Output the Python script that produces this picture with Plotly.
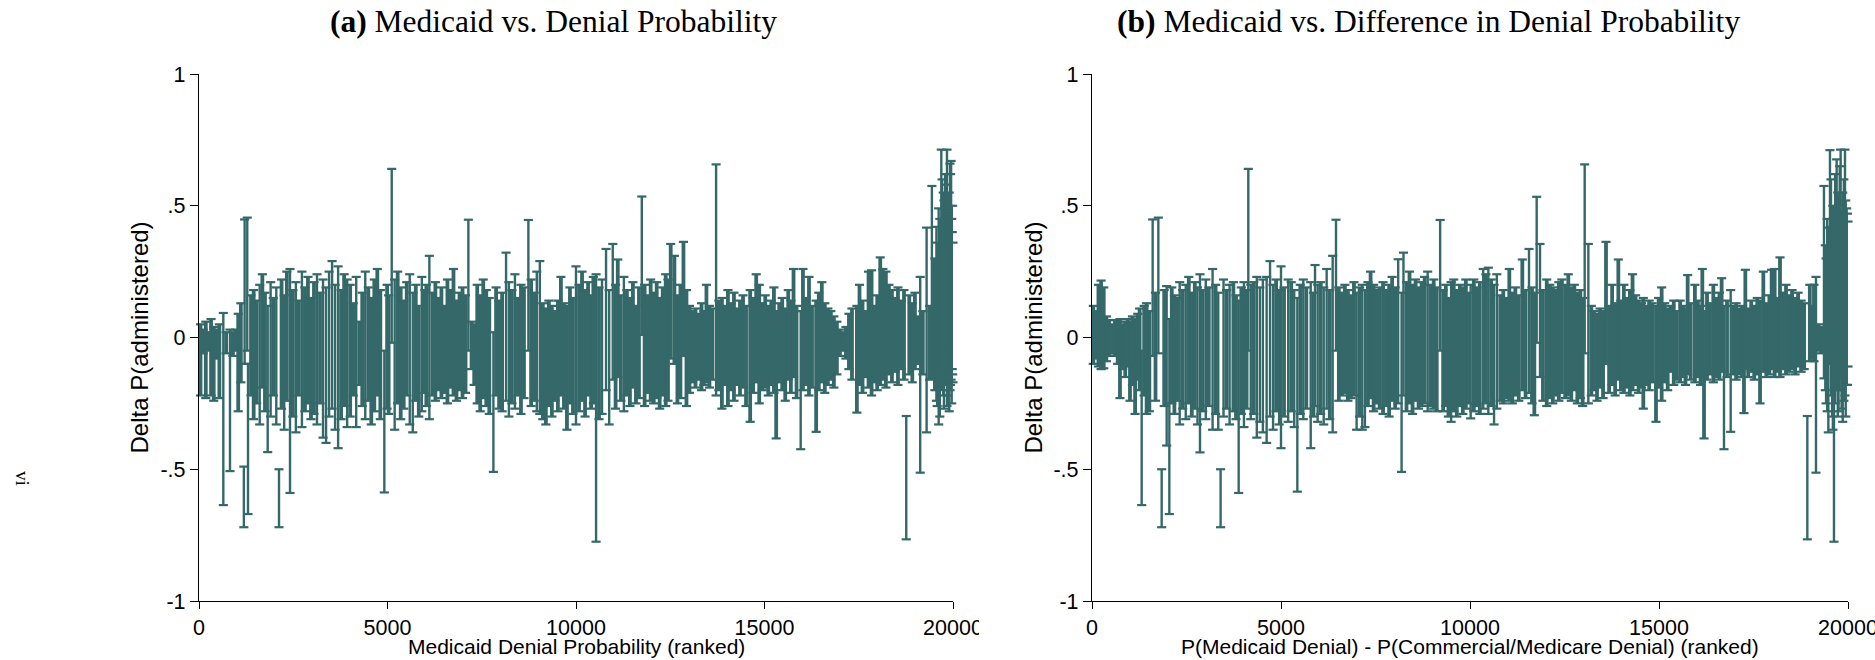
import plotly.graph_objects as go

# ---------------- Panel (a): Medicaid denial probability (ranked) ----------------
rank_a = [40, 110, 180, 250, 320, 390, 460, 540, 645, 720, 822, 900, 970,
          1040, 1110, 1190, 1210, 1280, 1300, 1380, 1450, 1530, 1610, 1680, 1750, 1822, 1900, 1970,
          2050, 2122, 2190, 2260, 2330, 2414, 2490, 2570, 2650, 2730, 2810, 2890, 2970,
          3050, 3130, 3210, 3290, 3370, 3450, 3530, 3610, 3690, 3770, 3850, 3930,
          4010, 4090, 4170, 4250, 4330, 4410, 4490, 4570, 4650, 4730, 4810, 4916, 4990,
          5030, 5112, 5190, 5270, 5350, 5430, 5510, 5590, 5670, 5750, 5830, 5910, 5990,
          6030, 6110, 6190, 6270, 6350, 6430, 6510, 6590, 6670, 6750, 6830, 6910, 6990, 7070, 7145,
          7230, 7300, 7380, 7460, 7540, 7620, 7700, 7809, 7880, 7960,
          8040, 8145, 8220, 8300, 8380, 8460, 8540, 8620, 8737, 8810, 8890, 8960,
          9040, 9120, 9200, 9280, 9360, 9440, 9520, 9600, 9680, 9760, 9840, 9920,
          10000, 10080, 10160, 10240, 10320, 10400, 10460, 10532, 10610, 10690, 10797, 10880, 10975,
          11050, 11108, 11190, 11270, 11350, 11430, 11510, 11590, 11670, 11745, 11820, 11900, 11980,
          12060, 12140, 12220, 12300, 12380, 12440, 12512, 12610, 12690, 12770, 12850, 12930,
          13010, 13090, 13170, 13250, 13330, 13390, 13460, 13540, 13620, 13716, 13790, 13870, 13950,
          14030, 14110, 14190, 14270, 14350, 14430, 14510, 14620, 14700, 14780, 14860, 14940,
          15020, 15100, 15180, 15250, 15310, 15390, 15470, 15550, 15630, 15700, 15770, 15850, 15960,
          16020, 16100, 16180, 16260, 16370, 16440, 16520, 16600, 16680, 16760, 16840, 16920,
          17000, 17080, 17160, 17240, 17320, 17450, 17520, 17600, 17680, 17760, 17840, 17920, 17990,
          18070, 18140, 18220, 18300, 18380, 18460, 18540, 18620, 18700, 18760, 18840, 18920, 18990,
          19060, 19130, 19200, 19300, 19380, 19440, 19520, 19580, 19620, 19690, 19740, 19790, 19840,
          19880, 19920, 19950, 19980, 20000,
          19560, 19650, 19710, 19760, 19810, 19860, 19900, 19935, 19965, 19990]

lo_a = [-0.22, -0.06, -0.23, -0.05, -0.22, -0.24, -0.08, -0.23, -0.636, -0.06, -0.507, -0.07, -0.05,
        -0.28, -0.17, -0.72, -0.10, -0.05, -0.67, -0.22, -0.31, -0.25, -0.33, -0.19, -0.28, -0.435, -0.30, -0.22,
        -0.33, -0.72, -0.27, -0.35, -0.24, -0.59, -0.30, -0.36, -0.22, -0.34, -0.28, -0.25, -0.31,
        -0.29, -0.33, -0.25, -0.38, -0.40, -0.30, -0.27, -0.35, -0.42, -0.31, -0.26, -0.34,
        -0.30, -0.22, -0.34, -0.18, -0.26, -0.31, -0.24, -0.33, -0.28, -0.22, -0.31, -0.588, -0.27,
        -0.29, -0.02, -0.35, -0.25, -0.31, -0.27, -0.22, -0.33, -0.36, -0.24, -0.30, -0.28, -0.21,
        -0.26, -0.31, -0.22, -0.24, -0.20, -0.23, -0.21, -0.25, -0.19, -0.22, -0.24, -0.20, -0.23, -0.21, -0.05,
        -0.12, -0.18, -0.25, -0.28, -0.23, -0.26, -0.29, -0.51, -0.22, -0.27,
        -0.28, -0.24, -0.30, -0.25, -0.27, -0.22, -0.29, -0.23, -0.05, -0.26, -0.24, -0.28,
        -0.29, -0.31, -0.33, -0.26, -0.30, -0.24, -0.28, -0.22, -0.27, -0.35, -0.25, -0.29,
        -0.33, -0.28, -0.24, -0.30, -0.22, -0.27, -0.25, -0.775, -0.31, -0.29, -0.20, -0.33, -0.16,
        -0.27, -0.15, -0.24, -0.28, -0.22, -0.26, -0.19, -0.25, -0.23, 0.01, -0.26, -0.21, -0.24,
        -0.25, -0.23, -0.27, -0.22, -0.26, -0.24, -0.08, -0.10, -0.25, -0.23, -0.07, -0.26,
        -0.21, -0.17, -0.19, -0.16, -0.20, -0.18, -0.17, -0.19, -0.16, -0.22, -0.20, -0.27, -0.18,
        -0.26, -0.20, -0.24, -0.18, -0.22, -0.19, -0.26, -0.32, -0.21, -0.17, -0.25, -0.20,
        -0.19, -0.22, -0.18, -0.21, -0.383, -0.17, -0.20, -0.24, -0.16, -0.21, -0.15, -0.23, -0.424,
        -0.20, -0.18, -0.22, -0.19, -0.358, -0.20, -0.17, -0.21, -0.18, -0.16, -0.19, -0.14,
        -0.07, -0.05, -0.08, -0.12, -0.16, -0.285, -0.18, -0.21, -0.15, -0.19, -0.22, -0.17, -0.20,
        -0.18, -0.16, -0.19, -0.14, -0.17, -0.13, -0.18, -0.12, -0.16, -0.766, -0.14, -0.17, -0.12,
        -0.10, -0.513, -0.14, -0.36, -0.16, -0.155, -0.20, -0.26, -0.33, -0.05, -0.22, -0.18, -0.26,
        -0.15, -0.20, -0.16, -0.12, -0.17,
        -0.24, -0.30, -0.20, -0.27, -0.14, -0.22, -0.28, -0.18, -0.25, -0.14]

hi_a = [0.05, 0.03, 0.06, 0.02, 0.07, 0.04, 0.03, 0.05, 0.093, 0.02, 0.03, 0.02, 0.03,
        0.09, 0.13, -0.49, 0.448, 0.455, -0.10, 0.16, 0.18, 0.14, 0.20, 0.24, 0.17, 0.12, 0.21, 0.15,
        0.19, -0.50, 0.22, 0.16, 0.25, 0.26, 0.18, 0.21, 0.14, 0.25, 0.19, 0.23, 0.15,
        0.21, 0.24, 0.17, 0.22, 0.19, 0.25, 0.29, 0.20, 0.27, 0.18, 0.24, 0.22,
        0.20, 0.13, 0.23, 0.06, 0.17, 0.25, 0.19, 0.15, 0.22, 0.26, 0.18, -0.05, 0.20,
        0.16, 0.64, 0.22, 0.25, 0.19, 0.14, 0.21, 0.24, 0.17, 0.20, 0.12, 0.23, 0.18,
        0.20, 0.31, 0.17, 0.21, 0.15, 0.19, 0.12, 0.22, 0.18, 0.26, 0.14, 0.17, 0.19, 0.16, 0.447,
        0.06, 0.05, 0.20, 0.16, 0.22, 0.18, 0.15, 0.02, 0.19, 0.14,
        0.17, 0.322, 0.21, 0.18, 0.24, 0.15, 0.20, 0.19, 0.446, 0.22, 0.17, 0.25,
        0.29, 0.13, 0.11, 0.14, 0.12, 0.10, 0.14, 0.23, 0.13, 0.12, 0.19, 0.15,
        0.27, 0.20, 0.25, 0.18, 0.21, 0.16, 0.23, 0.24, 0.19, 0.22, 0.336, 0.18, 0.355,
        0.20, 0.296, 0.16, 0.23, 0.18, 0.15, 0.21, 0.12, 0.19, 0.535, 0.20, 0.16, 0.22,
        0.17, 0.21, 0.15, 0.19, 0.24, 0.22, 0.355, 0.31, 0.16, 0.20, 0.363, 0.18,
        0.12, 0.10, 0.11, 0.09, 0.13, 0.10, 0.20, 0.12, 0.11, 0.657, 0.14, 0.15, 0.12,
        0.18, 0.13, 0.17, 0.11, 0.14, 0.16, 0.12, 0.18, 0.15, 0.24, 0.20, 0.13,
        0.16, 0.12, 0.14, 0.19, 0.10, 0.13, 0.15, 0.11, 0.18, 0.14, 0.26, 0.12, 0.10,
        0.26, 0.15, 0.23, 0.12, 0.14, 0.17, 0.21, 0.13, 0.11, 0.10, 0.08, 0.06,
        0.03, 0.02, 0.04, 0.09, 0.11, 0.12, 0.20, 0.14, 0.10, 0.25, 0.255, 0.12, 0.16,
        0.304, 0.26, 0.25, 0.20, 0.18, 0.15, 0.19, 0.14, 0.18, -0.298, 0.16, 0.13, 0.17,
        0.08, 0.23, 0.10, 0.417, 0.12, 0.575, 0.30, 0.36, 0.49, 0.713, 0.55, 0.62, 0.713,
        0.48, 0.66, 0.67, 0.40, 0.36,
        0.42, 0.45, 0.60, 0.52, 0.58, 0.50, 0.55, 0.62, 0.45, 0.50]

# ---------------- Panel (b): difference in denial probability (ranked) ----------------
rank_b = [35, 100, 170, 240, 310, 380, 450, 530, 610, 680, 740, 810, 880, 950,
          1005, 1070, 1140, 1210, 1260, 1314, 1380, 1445, 1517, 1605, 1680, 1755, 1843, 1910, 1975,
          2046, 2110, 2180, 2250, 2320, 2400, 2480, 2560, 2640, 2720, 2790, 2857, 2930,
          3010, 3090, 3190, 3270, 3340, 3402, 3480, 3560, 3640, 3740, 3810, 3880, 3950,
          4020, 4090, 4135, 4200, 4280, 4360, 4440, 4520, 4620, 4710, 4790, 4870, 4950,
          5000, 5080, 5190, 5270, 5350, 5432, 5510, 5590, 5670, 5786, 5860, 5900, 5970,
          6050, 6130, 6208, 6290, 6367, 6455, 6530, 6610, 6690, 6770, 6850, 6930, 7000,
          7080, 7150, 7220, 7300, 7370, 7450, 7530, 7610, 7700, 7780, 7860, 7940,
          8020, 8100, 8190, 8240, 8320, 8400, 8480, 8560, 8640, 8720, 8800, 8880, 8960,
          9040, 9120, 9210, 9290, 9360, 9430, 9500, 9570, 9650, 9730, 9810, 9890, 9960,
          10018, 10100, 10180, 10260, 10350, 10420, 10485, 10560, 10636, 10710, 10800, 10880, 10960,
          11040, 11120, 11200, 11290, 11384, 11470, 11561, 11640, 11702, 11764, 11852, 11930,
          12030, 12110, 12190, 12270, 12350, 12430, 12520, 12600, 12680, 12760, 12840, 12920, 12980,
          13034, 13131, 13210, 13280, 13360, 13440, 13520, 13598, 13680, 13760, 13840, 13924, 13990,
          14070, 14150, 14230, 14300, 14380, 14460, 14540, 14585, 14660, 14740, 14820, 14920, 14990,
          15070, 15150, 15230, 15310, 15390, 15470, 15560, 15640, 15700, 15758, 15840, 15950,
          16030, 16100, 16146, 16191, 16270, 16350, 16437, 16520, 16600, 16657, 16719, 16800, 16896, 16960,
          17040, 17120, 17200, 17248, 17284, 17360, 17440, 17520, 17600, 17673, 17760, 17840, 17920, 17980,
          18060, 18130, 18201, 18280, 18360, 18440, 18520, 18600, 18680, 18760, 18840, 18924, 18990,
          19060, 19100, 19153, 19220, 19290, 19364, 19420, 19480, 19523, 19580, 19629, 19700, 19750,
          19805, 19860, 19920, 19965, 20000,
          19400, 19450, 19550, 19600, 19660, 19730, 19780, 19830, 19890, 19940, 19985]

lo_b = [-0.10, -0.08, -0.11, -0.12, -0.117, -0.09, -0.07, -0.06, -0.07, -0.10, -0.23, -0.12, -0.15, -0.11,
        -0.24, -0.18, -0.29, -0.16, -0.20, -0.636, -0.22, -0.29, -0.28, -0.07, -0.24, -0.06, -0.72, -0.26, -0.41,
        -0.67, -0.25, -0.29, -0.24, -0.33, -0.27, -0.31, -0.25, -0.30, -0.27, -0.33, -0.436, -0.28,
        -0.31, -0.26, -0.35, -0.29, -0.35, -0.72, -0.30, -0.27, -0.33, -0.28, -0.31, -0.59, -0.29,
        -0.34, -0.27, -0.05, -0.31, -0.29, -0.38, -0.32, -0.36, -0.40, -0.30, -0.35, -0.28, -0.33,
        -0.42, -0.30, -0.32, -0.28, -0.34, -0.585, -0.29, -0.31, -0.27, -0.42, -0.30, -0.26, -0.32,
        -0.29, -0.33, -0.27, -0.31, -0.36, -0.05, -0.24, -0.22, -0.21, -0.24, -0.23, -0.22, -0.35,
        -0.30, -0.35, -0.34, -0.26, -0.23, -0.28, -0.25, -0.27, -0.29, -0.26, -0.30, -0.24,
        -0.27, -0.25, -0.51, -0.22, -0.28, -0.25, -0.29, -0.24, -0.27, -0.26, -0.25, -0.28, -0.26,
        -0.27, -0.28, -0.05, -0.28, -0.26, -0.30, -0.32, -0.28, -0.30, -0.26, -0.29, -0.27, -0.25,
        -0.307, -0.28, -0.26, -0.29, -0.27, -0.25, -0.29, -0.26, -0.33, -0.27, -0.24, -0.25, -0.23,
        -0.24, -0.25, -0.22, -0.24, -0.20, -0.23, -0.21, -0.25, -0.295, -0.02, -0.15, -0.24,
        -0.26, -0.23, -0.25, -0.22, -0.24, -0.21, -0.23, -0.22, -0.24, -0.20, -0.25, -0.23, -0.26,
        -0.06, -0.25, -0.22, -0.20, -0.24, -0.19, -0.23, -0.10, -0.21, -0.18, -0.22, -0.16, -0.20,
        -0.21, -0.19, -0.22, -0.20, -0.18, -0.21, -0.19, -0.27, -0.18, -0.20, -0.17, -0.32, -0.19,
        -0.24, -0.17, -0.20, -0.13, -0.18, -0.16, -0.17, -0.15, -0.18, -0.14, -0.16, -0.17,
        -0.15, -0.18, -0.14, -0.383, -0.16, -0.14, -0.17, -0.15, -0.16, -0.13, -0.424, -0.15, -0.358, -0.14,
        -0.16, -0.14, -0.15, -0.287, -0.12, -0.15, -0.13, -0.16, -0.14, -0.25, -0.13, -0.15, -0.14, -0.12,
        -0.15, -0.13, -0.15, -0.12, -0.14, -0.13, -0.12, -0.14, -0.11, -0.13, -0.12, -0.766, -0.09,
        -0.08, -0.09, -0.513, -0.05, -0.06, -0.155, -0.25, -0.36, -0.10, -0.30, -0.775, -0.20, -0.28,
        -0.15, -0.32, -0.22, -0.18, -0.11,
        -0.20, -0.28, -0.22, -0.35, -0.25, -0.30, -0.20, -0.27, -0.24, -0.30, -0.18]

hi_b = [0.12, 0.10, 0.20, 0.216, 0.19, 0.08, 0.066, 0.05, 0.066, 0.06, 0.07, 0.05, 0.06, 0.07,
        0.06, 0.08, 0.07, 0.09, 0.11, -0.05, 0.12, 0.13, 0.10, 0.448, 0.17, 0.455, -0.50, 0.18, 0.195,
        0.07, 0.19, 0.16, 0.15, 0.21, 0.18, 0.20, 0.23, 0.17, 0.21, 0.19, 0.24, 0.18,
        0.22, 0.19, 0.26, 0.20, 0.17, -0.50, 0.22, 0.18, 0.20, 0.21, 0.16, 0.14, 0.19,
        0.21, 0.18, 0.64, 0.20, 0.21, 0.23, 0.19, 0.22, 0.23, 0.29, 0.20, 0.22, 0.18,
        0.27, 0.19, 0.22, 0.21, 0.18, 0.15, 0.20, 0.22, 0.19, 0.21, 0.17, 0.275, 0.20,
        0.21, 0.19, 0.26, 0.18, 0.31, 0.447, 0.19, 0.17, 0.20, 0.18, 0.16, 0.21, 0.17,
        0.19, 0.20, 0.18, 0.21, 0.25, 0.20, 0.18, 0.19, 0.21, 0.18, 0.20, 0.23,
        0.19, 0.297, 0.17, 0.322, 0.21, 0.25, 0.20, 0.22, 0.19, 0.21, 0.23, 0.25, 0.20,
        0.22, 0.19, 0.446, 0.18, 0.20, 0.15, 0.21, 0.22, 0.18, 0.20, 0.19, 0.22, 0.17,
        0.20, 0.22, 0.19, 0.21, 0.26, 0.24, 0.265, 0.22, 0.20, 0.24, 0.16, 0.18, 0.15,
        0.26, 0.17, 0.19, 0.16, 0.296, 0.18, 0.336, 0.19, 0.17, 0.534, 0.355, 0.18,
        0.22, 0.20, 0.19, 0.18, 0.21, 0.22, 0.20, 0.24, 0.19, 0.20, 0.17, 0.18, 0.15,
        0.657, 0.355, 0.12, 0.10, 0.09, 0.11, 0.10, 0.363, 0.12, 0.20, 0.13, 0.296, 0.14,
        0.20, 0.15, 0.18, 0.24, 0.16, 0.14, 0.13, 0.15, 0.12, 0.14, 0.13, 0.12, 0.15,
        0.19, 0.13, 0.11, 0.12, 0.14, 0.10, 0.14, 0.12, 0.11, 0.237, 0.13, 0.20,
        0.14, 0.12, 0.26, 0.10, 0.17, 0.13, 0.20, 0.15, 0.17, 0.225, 0.12, 0.14, 0.18, 0.12,
        0.13, 0.11, 0.12, 0.10, 0.257, 0.11, 0.14, 0.12, 0.15, 0.14, 0.25, 0.13, 0.16, 0.257,
        0.26, 0.15, 0.304, 0.17, 0.20, 0.16, 0.18, 0.15, 0.17, 0.14, 0.13, -0.298, 0.20,
        0.12, 0.20, 0.23, 0.05, 0.04, 0.575, 0.30, 0.417, 0.711, 0.42, 0.30, 0.676, 0.50,
        0.713, 0.55, 0.713, 0.49, 0.44,
        0.35, 0.45, 0.60, 0.50, 0.62, 0.55, 0.65, 0.48, 0.60, 0.52, 0.47]

assert len(rank_a) == len(lo_a) == len(hi_a), (len(rank_a), len(lo_a), len(hi_a))
assert len(rank_b) == len(lo_b) == len(hi_b), (len(rank_b), len(lo_b), len(hi_b))

y_ticks = [-1, -0.5, 0, 0.5, 1]
y_ticktext = ["-1", "-.5", "0", ".5", "1"]
x_ticks = [0, 5000, 10000, 15000, 20000]
x_ticktext = ["0", "5000", "10000", "15000", "20000"]

TEAL = "#346869"
W, H = 1875, 660


def px_x(p):
    return p / W


def px_y(p):
    return (H - p) / H


def is_long(lo, hi):
    # long intervals stand out of the dense band as thin individual bars
    return (hi - lo) > 0.5 or lo < -0.45 or hi > 0.40


def bar_traces(ranks, lows, highs, xa, ya):
    traces = []
    for long_group, width in ((False, 3.8), (True, 2.4)):
        xs, ys, cx, cy = [], [], [], []
        for r, lo, hi in zip(ranks, lows, highs):
            if is_long(lo, hi) != long_group:
                continue
            xs += [r, r, None]
            ys += [lo, hi, None]
            cx += [r, r]
            cy += [lo, hi]
        traces.append(go.Scatter(x=xs, y=ys, mode="lines", xaxis=xa, yaxis=ya,
                                 line=dict(color=TEAL, width=width), cliponaxis=False,
                                 hoverinfo="skip", showlegend=False))
        traces.append(go.Scatter(x=cx, y=cy, mode="markers", xaxis=xa, yaxis=ya,
                                 cliponaxis=False,
                                 marker=dict(symbol="line-ew", size=6.5, color=TEAL,
                                             line=dict(color=TEAL, width=2.2)),
                                 hoverinfo="skip", showlegend=False))
    return traces


fig = go.Figure()
for t in bar_traces(rank_a, lo_a, hi_a, "x", "y"):
    fig.add_trace(t)
for t in bar_traces(rank_b, lo_b, hi_b, "x2", "y2"):
    fig.add_trace(t)

tickfont = dict(family="Liberation Sans, Arial, sans-serif", size=21.5, color="black")
xcommon = dict(range=[0, 20000], tickvals=x_ticks, ticktext=x_ticktext, showgrid=False,
               zeroline=False, showline=True, linecolor="black", linewidth=1.3,
               ticks="outside", ticklen=7, tickwidth=1.3, tickcolor="black",
               tickfont=tickfont, fixedrange=True, automargin=False,
               ticklabeloverflow="allow")
ycommon = dict(range=[-1, 1], tickvals=y_ticks, ticktext=y_ticktext, showgrid=False,
               zeroline=False, showline=True, linecolor="black", linewidth=1.3,
               ticks="outside", ticklen=8, tickwidth=1.3, tickcolor="black",
               tickfont=tickfont, fixedrange=True, automargin=False)

ydom = [px_y(601), px_y(74)]
fig.update_layout(
    width=W, height=H,
    margin=dict(l=0, r=0, t=0, b=0, pad=0, autoexpand=False),
    paper_bgcolor="white", plot_bgcolor="white",
    showlegend=False,
    xaxis=dict(domain=[px_x(199), px_x(953)], anchor="y", **xcommon),
    yaxis=dict(domain=ydom, anchor="x", **ycommon),
    xaxis2=dict(domain=[px_x(1092), px_x(1848)], anchor="y2", **xcommon),
    yaxis2=dict(domain=ydom, anchor="x2", **ycommon),
)

lab = dict(family="Liberation Sans, Arial, sans-serif", size=21, color="black")
ylab = dict(family="Liberation Sans, Arial, sans-serif", size=24, color="black")
serif = dict(family="Liberation Serif, Times New Roman, serif", size=31.5, color="black")
ann = [
    dict(x=px_x(553), y=px_y(22), text="<b>(a)</b> Medicaid vs. Denial Probability", font=serif),
    dict(x=px_x(1428), y=px_y(22), text="<b>(b)</b> Medicaid vs. Difference in Denial Probability", font=serif),
    dict(x=px_x(576), y=px_y(646.5), text="Medicaid Denial Probability (ranked)", font=lab),
    dict(x=px_x(1470), y=px_y(646.5), text="P(Medicaid Denial) - P(Commercial/Medicare Denial) (ranked)", font=lab),
    dict(x=px_x(139), y=px_y(337.5), text="Delta P(administered)", font=ylab, textangle=-90),
    dict(x=px_x(1033), y=px_y(337.5), text="Delta P(administered)", font=ylab, textangle=-90),
    dict(x=px_x(23), y=px_y(478), text="vi", textangle=90,
         font=dict(family="Liberation Serif, serif", size=19, color="black")),
]
for a in ann:
    fig.add_annotation(xref="paper", yref="paper", showarrow=False,
                       xanchor="center", yanchor="middle", **a)

# the left sub-figure is cropped on its right edge, cutting its last tick label
fig.add_shape(type="rect", xref="paper", yref="paper", layer="above",
              x0=px_x(979), x1=px_x(1005), y0=0, y1=px_y(606),
              fillcolor="white", line=dict(width=0))

fig.write_html("out.html")
